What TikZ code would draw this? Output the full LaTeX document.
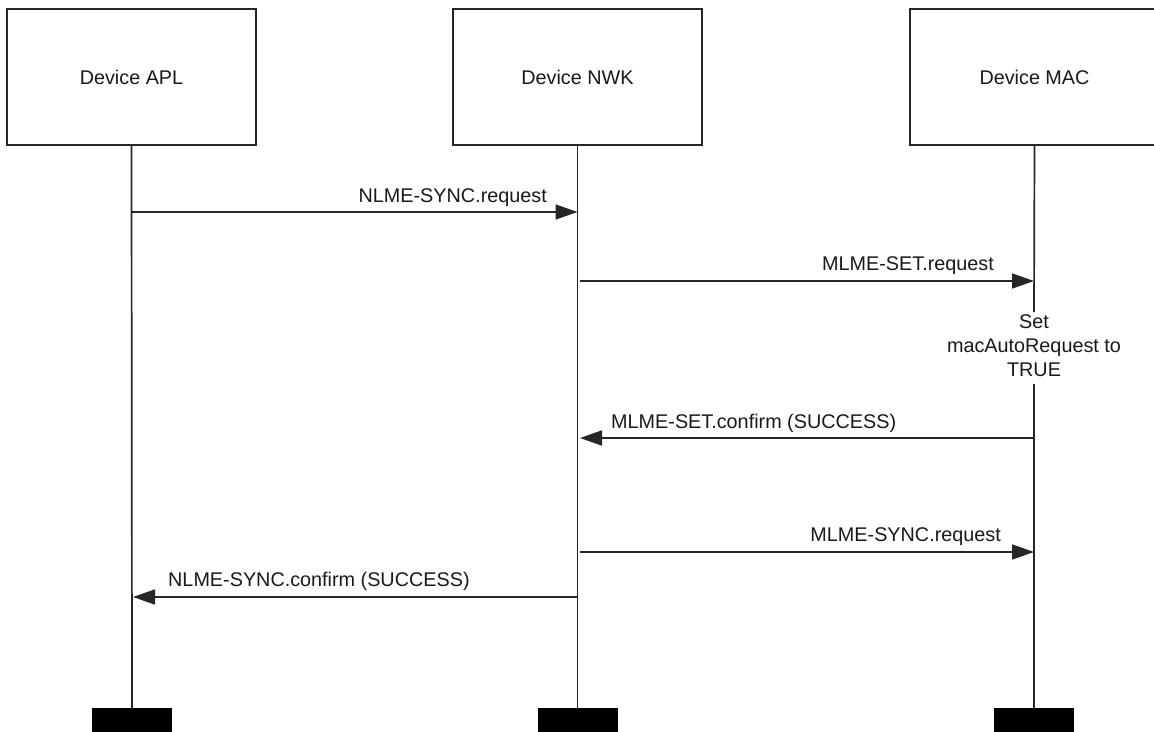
\documentclass[tikz,border=0pt]{standalone}
\usepackage{fontspec}
\setmainfont{Liberation Sans}
\usetikzlibrary{arrows.meta}
\begin{document}
\begin{tikzpicture}[x=1pt,y=-1pt,
  lane/.style={draw=black!85, line width=1.7pt, minimum width=249pt, minimum height=136pt, inner sep=0pt, text=black!90, font=\fontsize{19.8}{24}\selectfont},
  life/.style={draw=black!85, line width=1.7pt},
  msg/.style={draw=black!85, line width=1.7pt, -{Triangle[length=22pt,width=15pt]}},
  lbl/.style={font=\fontsize{19.8}{24}\selectfont, inner sep=0pt, text=black!90},
  endbar/.style={fill=black, minimum width=80pt, minimum height=24pt, inner sep=0pt, anchor=north}]
\useasboundingbox (0,0) rectangle (1154,731);
% lanes
\node[lane] (apl) at (131.5,77) {Device APL};
\node[lane] (nwk) at (577.5,77) {Device NWK};
\node[lane] (mac) at (1034.5,77) {Device MAC};
% lifeline ends
\coordinate (aplEnd) at (132,708);
\coordinate (nwkEnd) at (577.5,708);
\coordinate (macEnd) at (1034,708);
\node[endbar] (aplBar) at (aplEnd) {};
\node[endbar] (nwkBar) at (nwkEnd) {};
\node[endbar] (macBar) at (macEnd) {};
% note on MAC lifeline
\node[lbl, align=center] (note) at (1034,346) {Set\\macAutoRequest to\\TRUE};
\coordinate (macGapTop) at (1034,312);
\coordinate (macGapBot) at (1034,384);
% lifelines
\draw[life] (apl.south) -- (aplBar.north);
\draw[life] (nwk.south) -- (nwkBar.north);
\draw[life] (mac.south) -- (macGapTop);
\draw[life] (macGapBot) -- (macBar.north);
% message points
\coordinate (m1s) at (132,212);   \coordinate (m1e) at (577.5,212);
\coordinate (m2s) at (580,281);   \coordinate (m2e) at (1034,281);
\coordinate (m3s) at (1034,438);  \coordinate (m3e) at (580,438);
\coordinate (m4s) at (580,552);   \coordinate (m4e) at (1034,552);
\coordinate (m5s) at (577.5,597); \coordinate (m5e) at (133,597);
% messages
\draw[msg] (m1s) -- (m1e);
\draw[msg] (m2s) -- (m2e);
\draw[msg] (m3s) -- (m3e);
\draw[msg] (m4s) -- (m4e);
\draw[msg] (m5s) -- (m5e);
% labels
\node[lbl, anchor=base east] (l1) at (547,202) {NLME-SYNC.request};
\node[lbl, anchor=base east] (l2) at (994,270) {MLME-SET.request};
\node[lbl, anchor=base west] (l3) at (611,428) {MLME-SET.confirm (SUCCESS)};
\node[lbl, anchor=base east] (l4) at (1001,541) {MLME-SYNC.request};
\node[lbl, anchor=base west] (l5) at (168,586) {NLME-SYNC.confirm (SUCCESS)};
\end{tikzpicture}
\end{document}
